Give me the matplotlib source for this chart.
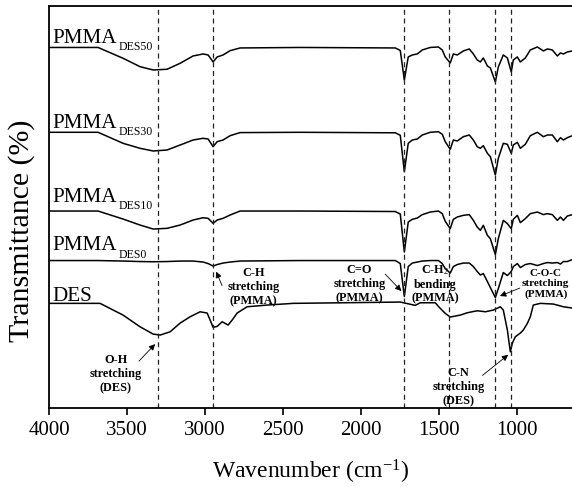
import matplotlib
matplotlib.use("Agg")
import matplotlib.pyplot as plt

plt.rcParams['font.family'] = ['Liberation Serif', 'DejaVu Serif']
plt.rcParams['mathtext.fontset'] = 'custom'
plt.rcParams['mathtext.rm'] = 'Liberation Serif'
plt.rcParams['mathtext.it'] = 'Liberation Serif:italic'
plt.rcParams['mathtext.bf'] = 'Liberation Serif:bold'

# wavenumber grid shared by the PMMA films (cm-1)
wn_pmma = [4000, 3686, 3526, 3417, 3333, 3244, 3160, 3077, 3013, 2981, 2949, 2923,
           2885, 2840, 2776, 2391, 1782, 1750, 1724, 1699, 1673, 1641, 1609, 1558,
           1506, 1481, 1462, 1430, 1410, 1385, 1346, 1308, 1282, 1257, 1237, 1218,
           1192, 1173, 1141, 1122, 1090, 1064, 1039, 1026, 1000, 981, 949, 917,
           872, 833, 808, 776, 744, 724, 705, 680, 648]

# relative transmittance (0 = baseline, negative = absorption)
t_des50 = [0, 0, -10.8, -19.2, -22.5, -21.8, -15.8, -8.5, -6.5, -7.5, -14.5, -9.5,
           -7.5, -3.2, -0.5, 0, -0.5, -3, -32.5, -9.5, -7.5, -6.5, -2.5, 0,
           0.5, -2.5, -9.5, -15.5, -6.5, -7.5, -3.5, -1.5, -6.5, -12.5, -14.5, -10.5,
           -18.5, -20.5, -34.5, -19.5, -7.5, -10.5, -24.5, -12.5, -9.5, -14.5, -10.5, -2.5,
           0.5, -3.5, -1.5, -2.5, -8.5, -5.5, -6.5, -4.5, -3.5]
t_des30 = [0, 0, -11, -16, -18.7, -17.7, -12.7, -7.7, -6, -6.7, -14.4, -9.4,
           -7.7, -3.4, -0.3, 0, -0.5, -3, -39.4, -11, -7.7, -6.7, -2.7, 0,
           0.6, -2, -9.4, -17, -7.7, -8.7, -4.4, -2.7, -7.7, -14.4, -16, -13.4,
           -21, -24.4, -42.7, -26, -11, -12, -21, -12.7, -10, -16, -12, -3.4,
           0, -4.4, -2.7, -2.7, -9.4, -5.4, -7.7, -5.4, -3.4]
t_des10 = [0, 0, -8, -14, -18, -17.3, -14, -9, -6.7, -7.3, -12.3, -9,
           -7.3, -4, 0, 0, -0.5, -3, -41, -11, -8.3, -7, -3.6, -1,
           0, -2.6, -10.3, -17.6, -8.3, -6, -4.3, -3.6, -9.3, -16, -19.3, -14.3,
           -24.3, -27.6, -43.6, -27.6, -9.3, -12.6, -17.6, -8.3, -4.3, -11.6, -7.6, -2.6,
           -1, -3.6, -2.6, -3.6, -9.3, -6, -9.3, -5, -3.6]
t_des0 = [0, 0, -0.5, -1, -1.2, -1, -0.5, -0.5, -1.5, -3, -5.5, -4,
          -2.5, -1.5, -0.5, 0, 0, -3, -36, -6, -2.5, -1.5, -0.5, 0,
          0, -3, -8, -12.5, -6, -4, -2.5, -2.5, -6, -11, -14.5, -13,
          -21, -27, -37, -28, -12, -15, -11, -6, -3, -7, -4, -3,
          -5, -3, -2, -2.5, -2, -3.5, -1, -1, 1]

# neat deep eutectic solvent
wn_des = [4000, 3673, 3526, 3417, 3333, 3288, 3224, 3160, 3096, 3032, 2987, 2968,
          2949, 2923, 2891, 2872, 2853, 2827, 2795, 2731, 2603, 2436, 1750, 1654,
          1622, 1526, 1494, 1462, 1430, 1398, 1365, 1321, 1257, 1205, 1154, 1109,
          1090, 1064, 1045, 1032, 1013, 981, 962, 936, 917, 898, 853, 769, 705, 648]
t_des = [0, 0, -11.7, -23.4, -30.7, -31.7, -28.4, -19.7, -13.4, -8.4, -9.7, -16.7,
         -24, -23, -18.4, -20, -21.7, -16.7, -9.7, -3.4, -1.7, 0, 1.3, -2,
         0.6, 0.6, -5, -10, -13.7, -12.7, -11.7, -9.4, -7.4, -8.4, -6.7, -3.4,
         -6.7, -26.7, -48.4, -39.7, -33.4, -29.7, -26.7, -20, -13.4, -1.7, 0, -0.7, -3.4, -4.7]

series = [t_des50, t_des30, t_des10, t_des0]
offsets = [360.5, 275.7, 197, 147.5]
names = ['DES50', 'DES30', 'DES10', 'DES0']
label_y = [365, 280, 206.3, 158]
des_offset = 104.7
des_label_y = 107

peaks = [3300, 2950, 1725, 1435, 1145, 1040]

fig = plt.figure(figsize=(5.72, 4.87), dpi=100)
ax = fig.add_axes([0.0857, 0.162, 0.9143, 0.8258])

for t, off in zip(series, offsets):
    ax.plot(wn_pmma, [off + v for v in t], color='black', lw=1.1)
ax.plot(wn_des, [des_offset + v for v in t_des], color='black', lw=1.1)

for p in peaks:
    ax.axvline(p, color='#222222', lw=0.9, ls=(0, (4, 3)))

# curve labels: "PMMA" with a lowered, smaller subscript
for name, y in zip(names, label_y):
    ax.text(3981, y, 'PMMA', fontsize=15.2, va='baseline', ha='left')
    ax.text(3556, y - 7.5, name, fontsize=8.5, va='baseline', ha='left')
ax.text(3981, des_label_y, 'DES', fontsize=15.2, va='baseline', ha='left')

# peak assignments
notes = [
    ('O-H\nstretching\n(DES)', 3571, 34, (3436, 45), (3308, 66), 8.8),
    ('C-H\nstretching\n(PMMA)', 2692, 121, (2885, 120), (2936, 139), 8.8),
    ('C=O\nstretching\n(PMMA)', 2013, 124, (1859, 136), (1731, 115), 8.8),
    ('C-H$_2$\nbending\n(PMMA)', 1526, 124, None, None, 8.8),
    ('C-O-C\nstretching\n(PMMA)', 818, 124, (968, 121), (1128, 111), 8.0),
    ('C-N\nstretching\n(DES)', 1378, 21, (1237, 31), (1045, 55), 8.8),
]
for txt, x, y, tail, tip, fs in notes:
    ax.text(x, y, txt, fontsize=fs, fontweight='bold', ha='center', va='center',
            linespacing=1.2)
    if tail is not None:
        ax.annotate('', xy=tip, xytext=tail,
                    arrowprops=dict(arrowstyle='-|>', color='black', lw=0.6,
                                    mutation_scale=9))

ax.set_xlim(4000, 650)
ax.set_ylim(0, 402)
ax.set_xticks([4000, 3500, 3000, 2500, 2000, 1500, 1000])
ax.set_yticks([])
ax.tick_params(axis='x', direction='out', length=5, width=1.2, labelsize=15, pad=4)
for s in ['left', 'top', 'bottom']:
    ax.spines[s].set_linewidth(1.3)
ax.spines['right'].set_visible(False)

ax.set_xlabel('Wavenumber (cm$^{\\mathrm{-1}}$)', fontsize=17, labelpad=13)
ax.set_ylabel('Transmittance (%)', fontsize=21.5)
ax.yaxis.set_label_coords(-0.026, 0.44)

fig.savefig('out.png', dpi=100)
